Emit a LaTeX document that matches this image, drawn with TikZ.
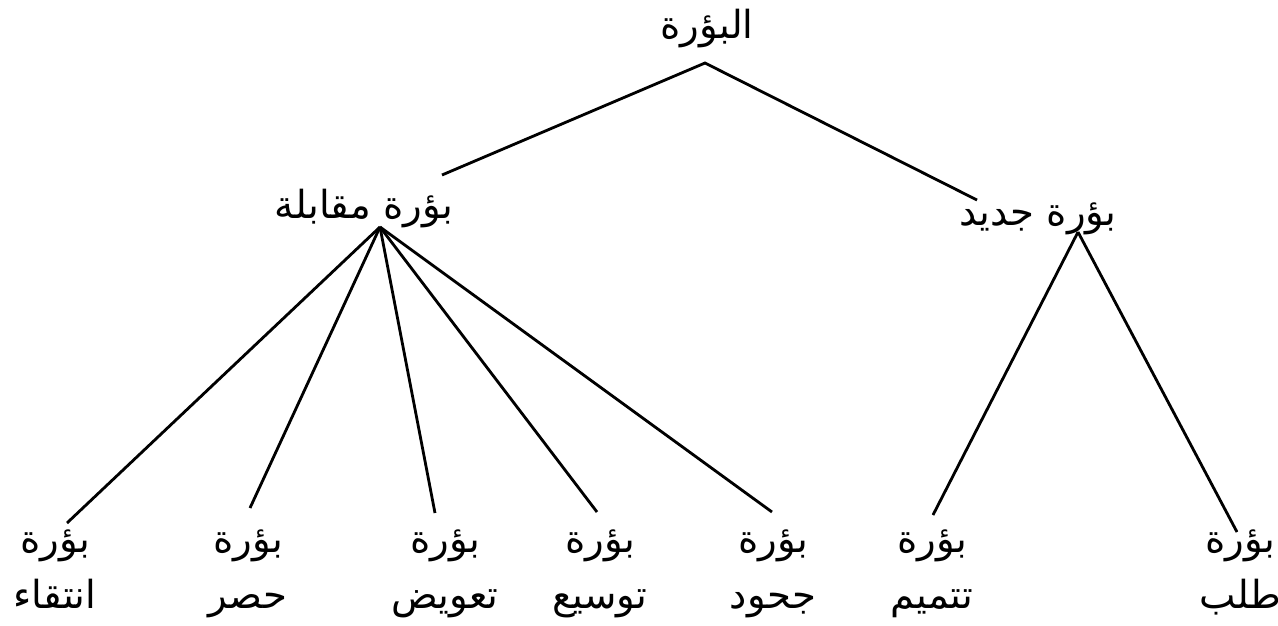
\documentclass[tikz,border=0pt]{standalone}
\usepackage{fontspec}
\newfontfamily\arabicfont[Script=Arabic]{DejaVu Sans}
\TeXXeTstate=1
\newcommand{\ar}[1]{{\arabicfont\beginR #1\strut\endR}}

\begin{document}
\begin{tikzpicture}[font=\fontsize{11}{16}\selectfont,
  lbl/.style={inner sep=0pt, align=center},
  branch/.style={black, line width=0.8pt}]
\useasboundingbox (0,0) rectangle (12.78,6.25);
% labels
\node[lbl, anchor=base] (root) at (7.07,5.87) {\ar{البؤرة}};
\node[lbl, anchor=base] (mq) at (3.64,4.07) {\ar{بؤرة مقابلة}};
\node[lbl, anchor=base] (jd) at (10.38,4.00) {\ar{بؤرة جديد}};
\foreach \n/\x/\w in {l1/0.55/انتقاء, l2/2.48/حصر, l3/4.45/تعويض, l4/6.00/توسيع,
                      l5/7.73/جحود, l6/9.32/تتميم, l7/12.40/طلب} {
 \node[lbl] (\n) at (\x,0.56) {\ar{بؤرة}\\ \ar{\w}};
}
% branch ends
\coordinate (rootf) at (7.05,5.62);
\coordinate (mqt) at (4.42,4.50);
\coordinate (jdt) at (9.77,4.25);
\coordinate (mqf) at (3.80,3.98);
\coordinate (jdf) at (10.78,3.93);
\foreach \n/\x/\y in {l1/0.67/1.02, l2/2.50/1.17, l3/4.35/1.12, l4/5.97/1.13,
                      l5/7.72/1.13, l6/9.33/1.10, l7/12.37/0.93} {
 \coordinate (\n t) at (\x,\y);
}
\draw[branch] (mqt) -- (rootf) -- (jdt);
\foreach \n in {l1,l2,l3,l4,l5} {
 \draw[branch] (mqf) -- (\n t);
}
\foreach \n in {l6,l7} {
 \draw[branch] (jdf) -- (\n t);
}
\end{tikzpicture}
\end{document}
